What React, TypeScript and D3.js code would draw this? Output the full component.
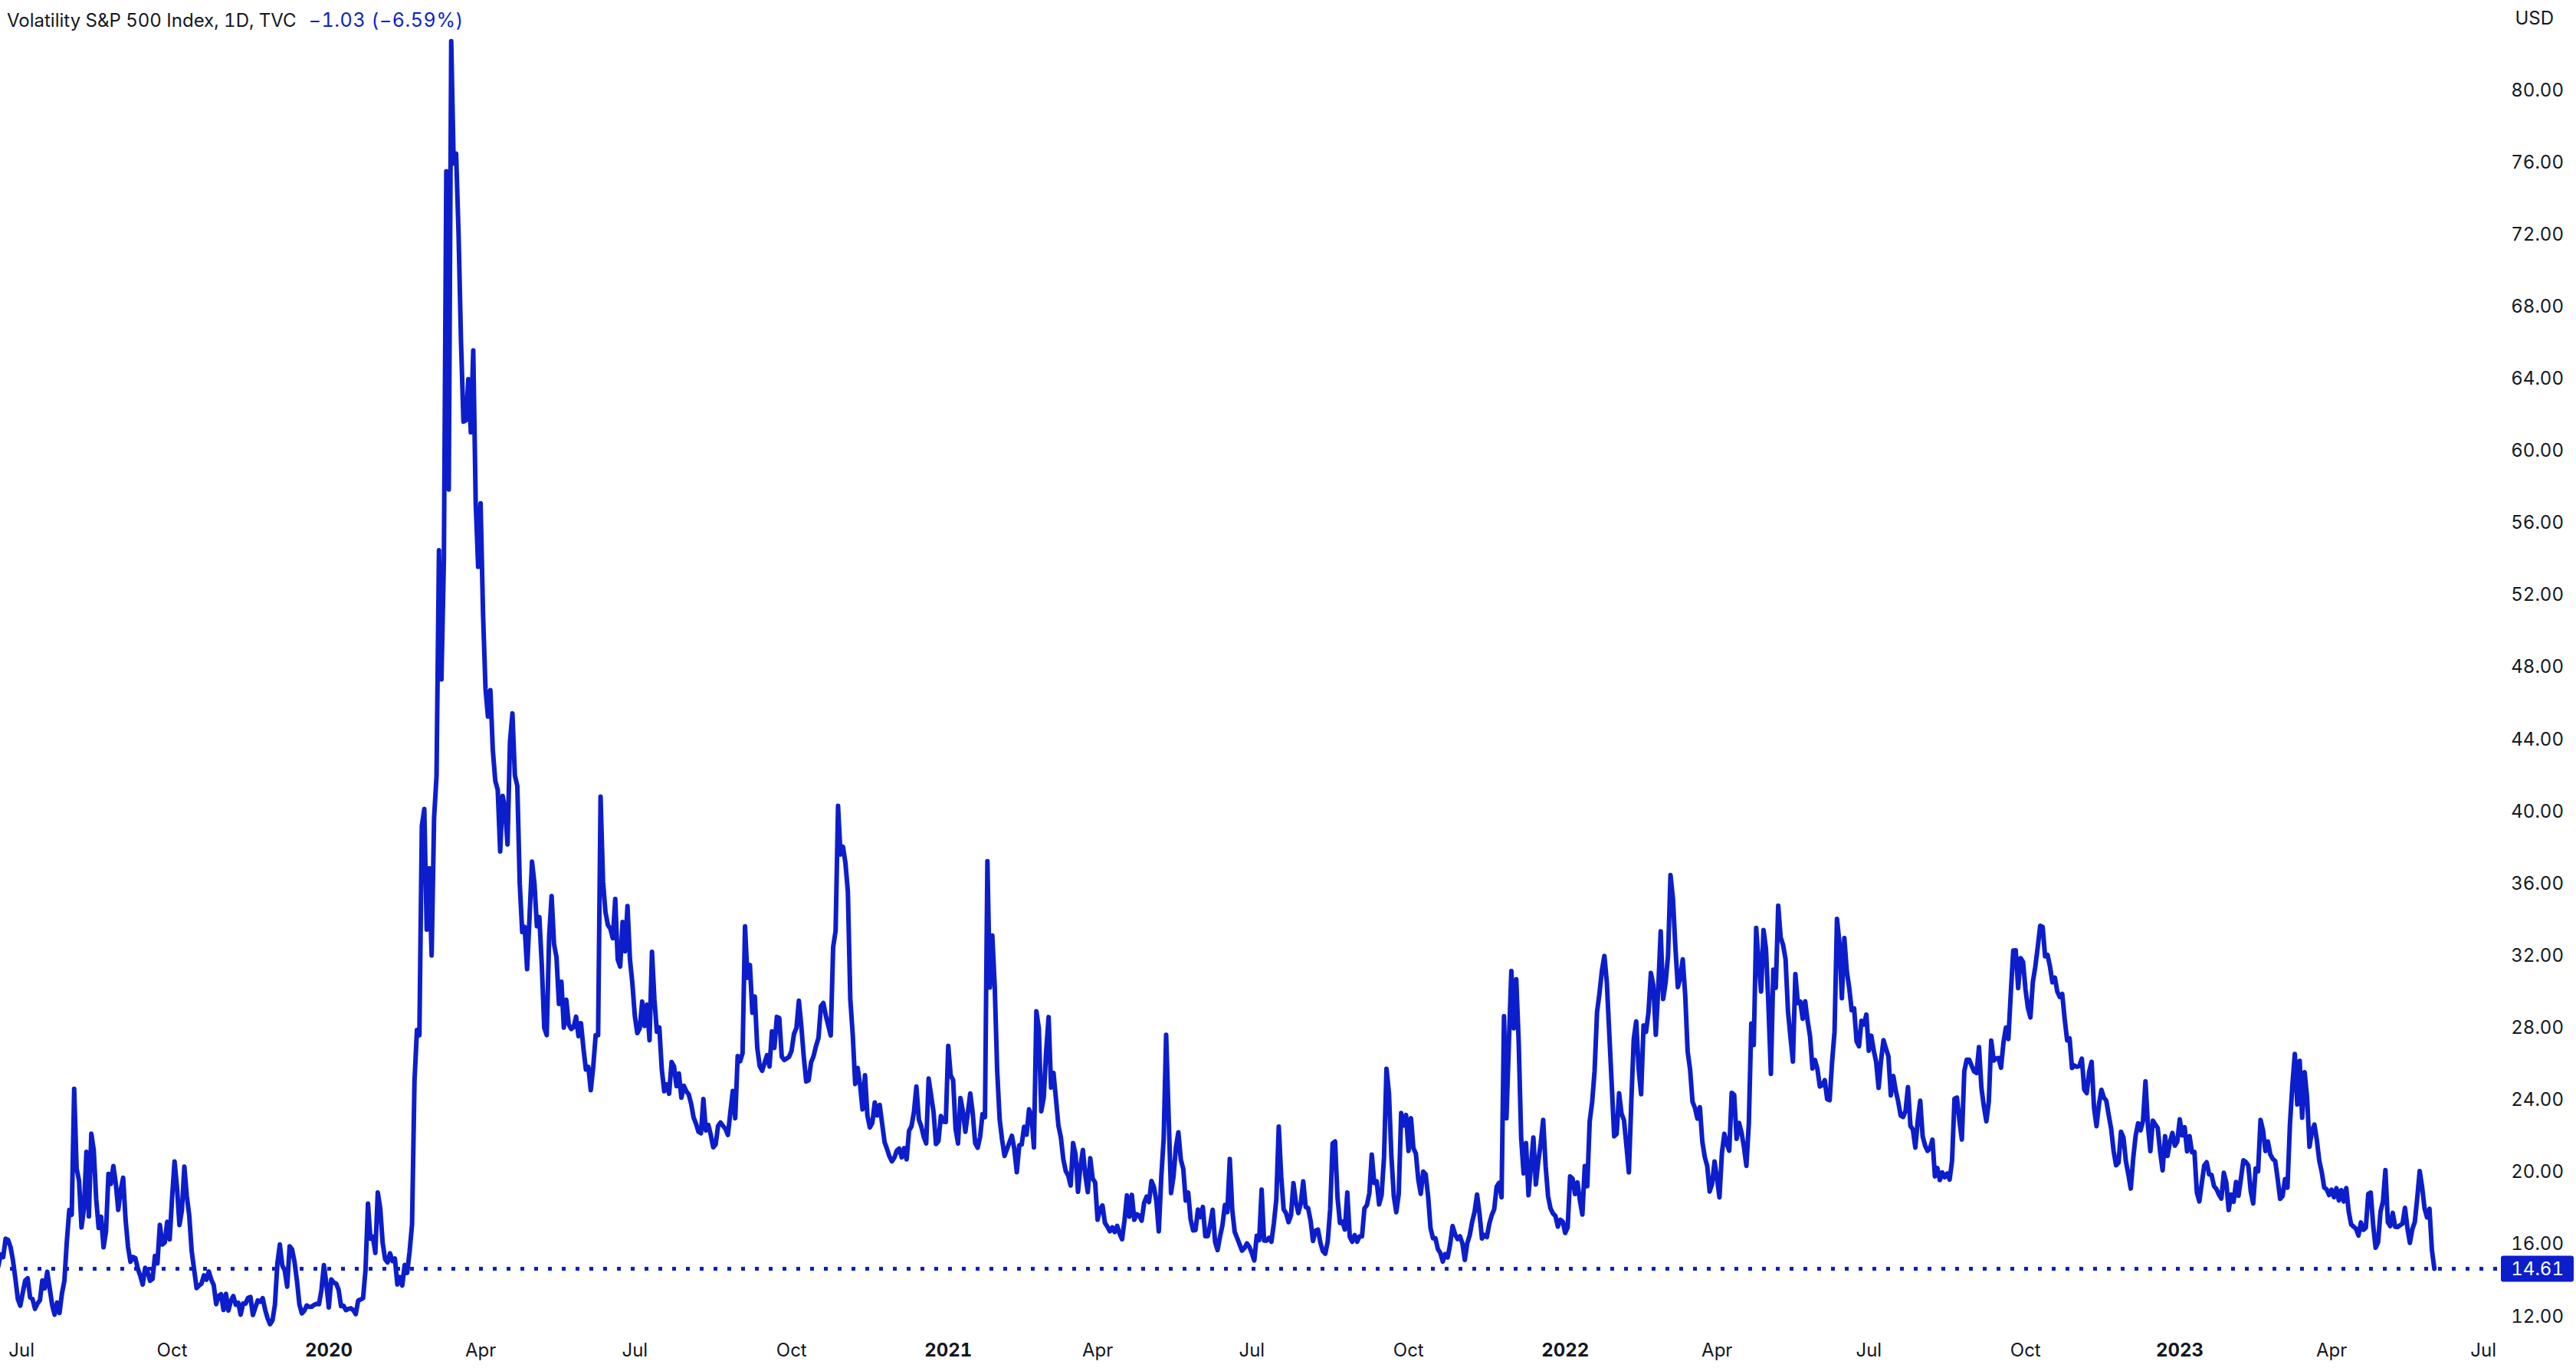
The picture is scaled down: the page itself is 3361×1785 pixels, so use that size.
import React from "react";
import * as d3 from "d3";

const W = 3361;
const H = 1785;

// ---- data -------------------------------------------------------------
const firstSession = "2019-06-17";
const lastCalendarDay = "2023-07-31";
const marketHolidays = [
  "2019-07-04", "2019-09-02", "2019-11-28", "2019-12-25",
  "2020-01-01", "2020-01-20", "2020-02-17", "2020-04-10", "2020-05-25", "2020-07-03", "2020-09-07", "2020-11-26", "2020-12-25",
  "2021-01-01", "2021-01-18", "2021-02-15", "2021-04-02", "2021-05-31", "2021-07-05", "2021-09-06", "2021-11-25", "2021-12-24",
  "2022-01-17", "2022-02-21", "2022-04-15", "2022-05-30", "2022-06-20", "2022-07-04", "2022-09-05", "2022-11-24", "2022-12-26",
  "2023-01-02", "2023-01-16", "2023-02-20", "2023-04-07", "2023-05-29", "2023-06-19", "2023-07-04",
];

// daily closes, one per session, starting at firstSession
const vix2019 = [
  15.35, 14.33, 14.33, 14.75, 15.40, 15.26, 16.28, 16.21, 15.82, 15.08,
  14.06, 12.93, 12.57, 13.28, 13.96, 14.09, 13.03, 12.93, 12.39, 12.68, 12.86, 13.97, 13.53, 14.45, 13.53, 12.61, 12.07, 12.74, 12.16, 13.24, 13.94, 16.12,
  17.87, 17.61, 24.59, 20.17, 19.49, 16.91, 17.97, 21.09, 17.52, 22.10, 21.18, 18.47, 16.88, 17.50, 15.80, 16.68, 19.87, 19.32, 20.31, 19.35, 17.88, 18.98,
  19.66, 17.33, 15.82, 15.00, 15.27, 15.20, 14.61, 14.22, 13.74, 14.67, 14.44, 13.95, 14.05, 15.32, 14.91, 17.05, 15.96, 16.07, 17.22, 16.24,
  18.56, 20.56, 19.12, 17.04, 17.86, 20.28, 18.64, 17.57, 15.58, 14.57, 13.54, 13.68, 13.79, 14.25, 14.00, 14.46, 14.01, 13.71, 12.65, 13.11, 13.20, 12.33, 13.22,
  12.30, 12.83, 13.10, 12.62, 12.73, 12.07, 12.69, 12.68, 13.00, 13.05, 12.05, 12.46, 12.86, 12.78, 12.98, 12.34, 11.87, 11.54, 11.75, 12.62,
  14.91, 15.96, 14.80, 14.52, 13.62, 15.86, 15.68, 14.99, 13.94, 12.63, 12.14, 12.29, 12.58, 12.50, 12.51, 12.61, 12.67, 12.65, 13.43, 14.82, 13.78,
];
const vix2020 = [
  12.47, 14.02, 13.85, 13.79, 13.45, 12.54, 12.56, 12.32, 12.39, 12.42, 12.32, 12.10, 12.85, 12.91, 12.98, 14.56, 18.23, 16.28, 16.39, 15.49, 18.84,
  17.97, 16.05, 15.15, 14.96, 15.47, 15.04, 15.18, 13.74, 14.15, 13.68, 14.83, 14.38, 15.56, 17.08, 25.03, 27.85, 27.56, 39.16, 40.11,
  33.42, 36.82, 31.99, 39.62, 41.94, 54.46, 47.30, 53.90, 75.47, 57.83, 82.69, 75.91, 76.45, 72.00, 66.04, 61.59, 61.67, 63.95, 61.00, 65.54, 57.08, 53.54,
  57.06, 50.91, 46.80, 45.24, 46.70, 43.35, 41.67, 41.17, 37.76, 40.84, 40.11, 38.15, 43.83, 45.41, 41.98, 41.38, 35.93, 33.29, 33.57, 31.23, 34.15,
  37.19, 35.97, 33.61, 34.12, 31.44, 27.98, 27.57, 33.04, 35.28, 32.61, 31.89, 29.30, 30.53, 27.99, 29.53, 28.16, 27.91, 28.01, 28.59, 27.51,
  28.23, 26.84, 25.66, 25.81, 24.52, 25.81, 27.57, 27.57, 40.79, 36.09, 34.40, 33.67, 33.47, 32.94, 35.12, 31.77, 31.37, 33.84, 32.22, 34.73, 31.78, 30.43,
  28.62, 27.68, 27.94, 29.43, 28.08, 29.26, 27.29, 32.19, 29.52, 27.76, 28.00, 25.68, 24.46, 24.84, 24.32, 26.08, 25.84, 24.74, 25.44, 24.10, 24.76, 24.46,
  24.28, 23.76, 23.00, 22.65, 22.21, 22.13, 24.03, 22.28, 22.59, 22.05, 21.35, 21.51, 22.54, 22.72, 22.54, 22.37, 22.03, 23.27, 24.47, 22.96, 26.41,
  26.12, 26.57, 33.60, 30.75, 31.46, 28.81, 29.71, 26.87, 25.85, 25.59, 26.04, 26.46, 25.83, 27.78, 26.86, 28.58, 28.51, 26.38, 26.19, 26.27, 26.37,
  26.70, 27.63, 27.96, 29.48, 28.06, 26.36, 25.00, 25.07, 26.07, 26.40, 26.97, 27.41, 29.18, 29.35, 28.65, 28.11, 27.55, 32.46, 33.35, 40.28, 37.59, 38.02,
  37.13, 35.55, 29.57, 27.58, 24.86, 25.75, 24.80, 23.45, 25.35, 23.10, 22.45, 22.71, 23.84, 23.11, 23.70, 22.66, 21.64, 21.25, 20.84, 20.57,
  20.77, 21.17, 21.28, 20.79, 21.30, 20.68, 22.27, 22.52, 23.31, 24.72, 22.89, 22.50, 21.93, 21.57, 25.16, 24.23, 23.31, 21.53, 21.70, 23.08, 22.77, 22.75,
];
const vix2021 = [
  26.97, 25.34, 25.07, 22.37, 21.56, 24.08, 23.33, 22.21, 23.25, 24.34, 23.24, 21.58, 21.32, 21.91, 23.19, 23.02, 37.21, 30.21, 33.09,
  30.24, 25.56, 22.91, 21.77, 20.87, 21.24, 21.63, 21.99, 21.25, 19.97, 21.46, 21.50, 22.49, 22.05, 23.45, 23.11, 21.34, 28.89, 27.95,
  23.35, 24.10, 26.67, 28.57, 24.66, 25.47, 24.03, 22.56, 21.91, 20.69, 20.03, 19.79, 19.23, 21.58, 20.95, 18.88, 20.30, 21.20, 19.81, 18.86, 20.74, 19.61, 19.40,
  17.33, 17.91, 18.12, 17.16, 16.95, 16.69, 16.91, 16.65, 16.99, 16.57, 16.25, 17.30, 18.68, 17.50, 18.71, 17.33, 17.64, 17.56, 17.28, 18.26, 18.61,
  18.31, 19.48, 19.15, 18.39, 16.69, 19.66, 21.84, 27.59, 23.13, 18.81, 19.72, 21.34, 22.18, 20.67, 20.15, 18.40, 18.84, 17.36, 16.74, 16.76,
  17.90, 17.48, 18.04, 16.42, 16.42, 17.07, 17.89, 16.10, 15.65, 16.39, 17.02, 18.15, 17.75, 20.70, 17.89, 16.66, 16.32, 15.97, 15.62, 15.76, 16.02, 15.83,
  15.48, 15.07, 16.44, 16.20, 19.00, 16.18, 16.17, 16.33, 16.11, 17.14, 18.45, 22.50, 19.73, 17.91, 17.69, 17.20, 17.58, 19.36, 18.31, 17.70, 18.24,
  19.46, 18.04, 17.97, 17.28, 16.15, 16.72, 16.79, 16.06, 15.59, 15.45, 16.12, 17.91, 21.57, 21.67, 18.56, 17.15, 17.22, 16.79, 18.84, 16.39, 16.11, 16.48,
  16.11, 16.41, 16.41, 17.96, 18.14, 18.80, 20.95, 19.37, 19.46, 18.18, 18.69, 20.81, 25.71, 24.36, 20.87, 18.63, 17.75, 18.76, 23.25, 22.56, 23.14,
  21.15, 22.96, 21.30, 21.00, 19.54, 18.77, 20.00, 19.85, 18.64, 16.86, 16.30, 16.30, 15.70, 15.49, 15.01, 15.43, 15.24, 15.98, 16.98, 16.53, 16.26,
  16.41, 16.03, 15.10, 16.03, 16.48, 17.22, 17.78, 18.73, 17.66, 16.29, 16.49, 16.37, 17.11, 17.59, 17.91, 19.17, 19.38, 18.58, 28.62, 22.96, 27.19,
  31.12, 27.95, 30.67, 27.18, 21.89, 19.90, 21.58, 18.69, 20.31, 21.89, 19.29, 20.57, 21.57, 22.87, 20.31, 18.63, 17.96, 17.68, 17.54, 16.95, 17.33, 17.22,
];
const vix2022 = [
  16.60, 16.91, 19.73, 19.61, 18.76, 19.40, 18.41, 17.62, 20.31, 19.19, 22.79, 23.85, 25.59, 28.85, 29.90, 31.16, 31.96, 30.49, 27.66, 24.83,
  21.96, 22.09, 24.35, 23.22, 22.86, 21.44, 19.96, 23.91, 27.36, 28.33, 25.70, 24.29, 28.11, 27.75, 28.81, 31.02, 30.32, 27.59, 30.15,
  33.32, 29.57, 30.48, 31.98, 36.45, 35.13, 32.45, 30.23, 30.75, 31.77, 29.83, 26.67, 25.67, 23.87, 23.53, 22.94, 23.57, 21.67, 20.81, 20.31, 18.90, 19.33, 20.56,
  19.63, 18.57, 21.03, 22.10, 21.55, 21.16, 24.37, 24.26, 21.82, 22.70, 22.17, 21.37, 20.32, 22.68, 28.21, 27.02, 33.52, 31.60, 29.99, 33.40,
  32.34, 29.25, 25.42, 31.20, 30.19, 34.75, 32.99, 32.56, 31.77, 28.87, 27.47, 26.10, 30.96, 29.35, 29.43, 28.48, 29.45, 28.37, 27.50, 25.72, 26.19,
  25.69, 24.72, 24.79, 25.07, 24.02, 23.96, 26.09, 27.75, 34.02, 32.69, 29.62, 32.95, 31.13, 30.19, 28.95, 29.05, 27.23, 26.95, 28.36, 28.16, 28.71,
  26.70, 27.54, 26.73, 26.08, 24.64, 26.17, 27.29, 26.82, 26.40, 24.23, 25.30, 24.50, 23.88, 23.11, 23.03, 23.36, 24.69, 22.54, 22.33, 21.33,
  22.84, 23.93, 21.95, 21.44, 21.15, 21.29, 21.77, 19.74, 20.20, 19.53, 19.95, 19.69, 19.90, 19.56, 20.60, 24.04, 24.11, 22.82, 21.78, 25.56, 26.21, 26.21, 25.87,
  25.56, 25.47, 26.91, 24.64, 23.61, 22.79, 23.87, 27.27, 26.16, 26.27, 26.30, 25.76, 27.16, 27.99, 27.35, 29.92, 32.26, 32.27, 30.18, 31.84, 31.62,
  30.10, 29.07, 28.55, 30.52, 31.36, 32.45, 33.63, 33.57, 31.94, 32.02, 31.37, 30.50, 30.76, 29.98, 29.69, 29.85, 28.46, 27.28, 27.39, 25.75, 25.88,
  25.81, 25.86, 26.27, 24.55, 24.35, 25.54, 26.09, 23.53, 22.52, 23.73, 24.54, 24.11, 23.93, 23.12, 22.36, 21.13, 20.35, 20.50, 22.21, 21.89, 20.58,
  19.84, 19.06, 20.75, 22.01, 22.68, 22.29, 22.83, 25.00, 22.55, 21.14, 22.83, 22.62, 22.42, 21.09, 20.07, 21.97, 20.87, 21.65, 22.14, 21.44, 21.67,
];
const vix2023 = [
  22.90, 22.01, 22.46, 21.13, 21.97, 21.07, 21.09, 18.83, 18.35, 19.36, 20.34, 20.52, 19.85, 19.81, 19.20, 19.03, 18.73, 18.51, 19.94, 19.40,
  17.87, 18.73, 18.33, 19.43, 18.66, 19.63, 20.63, 20.53, 20.34, 18.91, 18.23, 20.17, 20.02, 22.87, 22.29, 21.14, 21.67, 20.95, 20.70,
  20.58, 19.59, 18.49, 18.65, 19.59, 19.11, 22.61, 24.80, 26.52, 23.73, 26.14, 22.99, 25.51, 24.12, 21.38, 22.26, 22.61, 21.74, 20.60, 19.97, 19.12, 19.02, 18.70,
  19.00, 18.58, 19.08, 18.40, 18.97, 18.34, 19.09, 17.80, 17.07, 16.95, 16.83, 16.46, 17.18, 16.77, 16.89, 18.76, 18.84, 17.03, 15.78,
  16.08, 17.78, 18.34, 20.09, 17.19, 16.98, 17.71, 16.94, 16.93, 17.03, 17.12, 17.99, 16.87, 16.05, 16.81, 17.21, 18.53, 20.03, 19.14, 17.95, 17.46, 17.94,
  15.64, 14.61,
];
const yearlyCloses: [number, number[]][] = [
  [2019, vix2019], [2020, vix2020], [2021, vix2021], [2022, vix2022], [2023, vix2023],
];

const yTicks = [12, 16, 20, 24, 28, 32, 36, 40, 44, 48, 52, 56, 60, 64, 68, 72, 76, 80];
const axisMonths = [
  "2019-07", "2019-10", "2020-01", "2020-04", "2020-07", "2020-10", "2021-01", "2021-04", "2021-07",
  "2021-10", "2022-01", "2022-04", "2022-07", "2022-10", "2023-01", "2023-04", "2023-07",
];
const axisLabels = [
  "Jul", "Oct", "2020", "Apr", "Jul", "Oct", "2021", "Apr", "Jul",
  "Oct", "2022", "Apr", "Jul", "Oct", "2023", "Apr", "Jul",
];

const titleText = "Volatility S&P 500 Index, 1D, TVC";
const changeText = "\u22121.03 (\u22126.59%)";
const lastClose = 14.61;
const currency = "USD";

// ---- styling ------------------------------------------------------------
const BLUE = "#0c1ecb";
const FONT = "Inter, 'Noto Sans', Roboto, sans-serif";

// ---- sessions -------------------------------------------------------------
function buildSessions(): string[] {
  const hol = new Set(marketHolidays);
  const out: string[] = [];
  const d = new Date(firstSession + "T00:00:00Z");
  const end = new Date(lastCalendarDay + "T00:00:00Z");
  while (d <= end) {
    const wd = d.getUTCDay();
    const s = d.toISOString().slice(0, 10);
    if (wd !== 0 && wd !== 6 && !hol.has(s)) out.push(s);
    d.setUTCDate(d.getUTCDate() + 1);
  }
  return out;
}

export default function App() {
  const sessions = buildSessions();

  const points: { i: number; v: number }[] = [];
  yearlyCloses.forEach(([yr, vals]) => {
    const idxs = sessions
      .map((s, i) => ({ s, i }))
      .filter((o) => o.s.startsWith(String(yr)));
    vals.forEach((v, k) => {
      if (k < idxs.length) points.push({ i: idxs[k].i, v });
    });
  });

  const idxA = sessions.indexOf("2020-01-02");
  const idxB = sessions.indexOf("2023-01-03");
  const x = d3.scaleLinear().domain([idxA, idxB]).range([429, 2844]);
  const y = d3.scaleLinear().domain([12, 80]).range([1717, 117]);

  const plotRight = 3262;
  const line = d3
    .line<{ i: number; v: number }>()
    .x((d) => x(d.i))
    .y((d) => y(d.v))(points) as string;

  const lastY = y(lastClose);

  const monthIdx = axisMonths.map((m) => sessions.findIndex((s) => s.startsWith(m)));

  const numStyle = { fontVariantNumeric: "tabular-nums" as const };

  return (
    <svg
      width={W}
      height={H}
      viewBox={`0 0 ${W} ${H}`}
      style={{ position: "absolute", left: 0, top: 0, display: "block", background: "#fff" }}
      fontFamily={FONT}
    >
      <rect x={0} y={0} width={W} height={H} fill="#ffffff" />
      <defs>
        <clipPath id="plotClip">
          <rect x={0} y={0} width={plotRight} height={H} />
        </clipPath>
      </defs>

      {/* last price dotted line */}
      <line
        x1={0}
        x2={plotRight}
        y1={lastY}
        y2={lastY}
        stroke={BLUE}
        strokeWidth={5}
        strokeDasharray="5 13"
        strokeDashoffset={5}
      />

      <g clipPath="url(#plotClip)">
        <path d={line} fill="none" stroke={BLUE} strokeWidth={6} strokeLinejoin="round" strokeLinecap="round" />
      </g>

      {/* title */}
      <text x={9} y={35} fontSize={24} fill="#131722" style={numStyle}>
        {titleText}
        <tspan dx={16} fill={BLUE} fontSize={25} letterSpacing={0.6}>{changeText}</tspan>
      </text>

      {/* right axis */}
      <text x={3332} y={32} fontSize={24} fill="#131722" textAnchor="end">{currency}</text>
      {yTicks.map((t) => (
        <text key={t} x={3345} y={y(t) + 8.5} fontSize={24} fill="#131722" textAnchor="end" style={numStyle}>
          {d3.format(".2f")(t)}
        </text>
      ))}
      <rect x={3263} y={lastY - 17} width={95} height={34} rx={3} fill={BLUE} />
      <text x={3345} y={lastY + 8.5} fontSize={24} fill="#ffffff" textAnchor="end" style={numStyle}>
        {d3.format(".2f")(lastClose)}
      </text>

      {/* bottom axis */}
      {axisLabels.map((lab, k) => (
        <text
          key={k}
          x={x(monthIdx[k]) + (k === 0 ? 8 : 0)}
          y={1770}
          fontSize={24}
          textAnchor="middle"
          fill="#131722"
          fontWeight={/^\d{4}$/.test(lab) ? 700 : 400}
          style={numStyle}
        >
          {lab}
        </text>
      ))}
    </svg>
  );
}
